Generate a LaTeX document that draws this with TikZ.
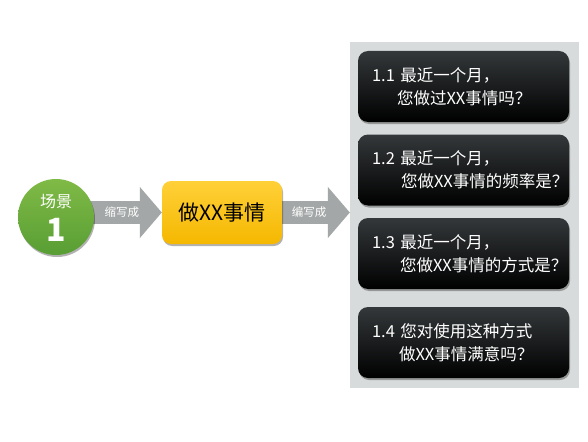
\documentclass[tikz,border=0pt]{standalone}
\usepackage{fontspec}
\setmainfont{Noto Sans CJK SC}
\usetikzlibrary{arrows.meta,shadows,calc}
\pgfdeclarelayer{bg}
\pgfdeclarelayer{arr}
\pgfsetlayers{bg,arr,main}
\definecolor{panelgray}{RGB}{216,219,219}
\definecolor{arrowgray}{RGB}{164,167,167}
\definecolor{greentop}{RGB}{128,186,70}
\definecolor{greenbot}{RGB}{88,158,52}
\definecolor{yeltop}{RGB}{255,208,56}
\definecolor{yelbot}{RGB}{245,184,0}
\definecolor{blacktop}{RGB}{52,56,58}
\tikzset{
  panelbox/.style={fill=panelgray, inner sep=0pt},
  softshadow/.style={drop shadow={shadow xshift=1pt, shadow yshift=-2pt, opacity=0.3, fill=black}},
  qbox/.style={rounded corners=10pt, minimum height=71pt, text width=183pt,
    inner xsep=14pt, inner ysep=0pt, align=left, text=white,
    top color=blacktop, middle color=black, bottom color=black,
    font=\fontsize{16.5}{23}\selectfont, softshadow},
  mainbox/.style={rounded corners=9pt, minimum width=120pt, minimum height=63pt,
    top color=yeltop, bottom color=yelbot, text=black, inner sep=0pt,
    font=\fontsize{21}{22}\selectfont, softshadow},
  scene/.style={circle, minimum size=76pt, inner sep=0pt, top color=greentop, bottom color=greenbot,
    text=white, align=center, softshadow},
  bigarrow/.style={draw=arrowgray, line width=23pt, -{Triangle[length=22pt,width=50pt]}},
  arrowlabel/.style={text=white, font=\fontsize{11.5}{12}\selectfont, inner sep=0pt}
}
\begin{document}
\begin{tikzpicture}[x=1pt,y=-1pt]
\begin{pgfonlayer}{bg}
\fill[white] (0,0) rectangle (588,441);
\path[use as bounding box] (0,0) rectangle (588,441);
\node[panelbox, minimum width=229pt, minimum height=346pt] (panel) at (464.5,215) {};
\end{pgfonlayer}

\node[scene] (circ) at (56,217) {};
\node[text=white, align=center, inner sep=0pt] (circtxt) at ([yshift=-1pt]circ.center) {{\fontsize{16}{17}\selectfont 场景}\\[8pt]{\fontsize{32}{30}\selectfont\bfseries 1}};
\node[mainbox] (yel) at (222,212.5) {做XX事情};

\node[qbox] (q1) at (463.5,86.5) {1.1 最近一个月，\\\hspace*{25pt}您做过XX事情吗？};
\node[qbox] (q2) at (463.5,170) {1.2 最近一个月，\\\hspace*{29pt}您做XX事情的频率是？};
\node[qbox] (q3) at (463.5,253.5) {1.3 最近一个月，\\\hspace*{28pt}您做XX事情的方式是？};
\node[qbox] (q4) at (463.5,342.5) {1.4 您对使用这种方式\\\hspace*{27pt}做XX事情满意吗？};

\begin{pgfonlayer}{arr}
\draw[bigarrow] (circ.center |- yel.west) -- (yel.west);
\draw[bigarrow] (yel.east) -- (yel.east -| panel.west);
\end{pgfonlayer}
\node[arrowlabel] (l1) at ($(circ.east |- yel.west)!0.41!(yel.west)$) {缩写成};
\node[arrowlabel] (l2) at ($(yel.east)!0.4!(yel.east -| panel.west)$) {编写成};
\end{tikzpicture}
\end{document}
